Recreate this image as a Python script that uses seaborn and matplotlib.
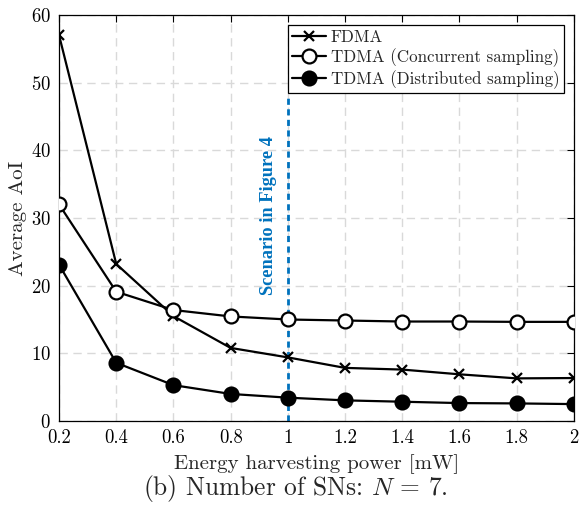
import matplotlib
matplotlib.use("Agg")
import matplotlib.pyplot as plt
import seaborn as sns
import pandas as pd

# Energy harvesting power [mW]
power = [0.2, 0.4, 0.6, 0.8, 1.0, 1.2, 1.4, 1.6, 1.8, 2.0]

# Average AoI for each access scheme
aoi_fdma = [57.0, 23.2, 15.5, 10.8, 9.4, 7.85, 7.6, 6.9, 6.3, 6.35]
aoi_tdma_concurrent = [32.0, 19.1, 16.4, 15.45, 15.0, 14.85, 14.7, 14.7, 14.65, 14.65]
aoi_tdma_distributed = [23.1, 8.6, 5.3, 4.0, 3.45, 3.05, 2.85, 2.65, 2.6, 2.5]

labels = ["FDMA", "TDMA (Concurrent sampling)", "TDMA (Distributed sampling)"]
x_ticks = [0.2, 0.4, 0.6, 0.8, 1.0, 1.2, 1.4, 1.6, 1.8, 2.0]
x_tick_labels = ["0.2", "0.4", "0.6", "0.8", "1", "1.2", "1.4", "1.6", "1.8", "2"]
y_ticks = [0, 10, 20, 30, 40, 50, 60]
scenario_power = 1.0
scenario_text = "Scenario in Figure 4"

sns.set_theme(style="white")
plt.rcParams["font.family"] = ["cmr10"]
plt.rcParams["mathtext.fontset"] = "cm"
plt.rcParams["axes.formatter.use_mathtext"] = True

df = pd.DataFrame({
    "power": power * 3,
    "aoi": aoi_fdma + aoi_tdma_concurrent + aoi_tdma_distributed,
    "scheme": [labels[0]] * len(power) + [labels[1]] * len(power) + [labels[2]] * len(power),
})

fig = plt.figure(figsize=(5.79, 5.15), dpi=100)
ax = fig.add_axes([0.102, 0.1825, 0.889, 0.7885])

styles = {
    labels[0]: dict(marker="x", markersize=7, markeredgewidth=1.6, markerfacecolor="black"),
    labels[1]: dict(marker="o", markersize=10, markeredgewidth=1.6, markerfacecolor="white"),
    labels[2]: dict(marker="o", markersize=10, markeredgewidth=1.6, markerfacecolor="black"),
}
for name in labels:
    sub = df[df["scheme"] == name]
    sns.lineplot(data=sub, x="power", y="aoi", ax=ax, color="black", linewidth=1.6,
                 markeredgecolor="black", label=name, zorder=3, **styles[name])

ax.set_xlim(0.2, 2.0)
ax.set_ylim(0, 60)
ax.set_xticks(x_ticks)
ax.set_xticklabels(x_tick_labels)
ax.set_yticks(y_ticks)
ax.tick_params(direction="in", length=5, width=0.8, top=True, right=True,
               labelsize=13.5, colors="black", pad=6)
ax.grid(True, linestyle=(0, (6, 4)), color="#d9d9d9", linewidth=1.0)
for sp in ax.spines.values():
    sp.set_color("black")
    sp.set_linewidth(0.9)

# Scenario marker
ax.vlines(scenario_power, 0, 48, colors="#0072BD", linestyles=(0, (2.2, 1.6)),
          linewidth=2.0, zorder=2)
ax.text(0.934, 30.4, scenario_text, rotation=90, ha="center", va="center",
        color="#0072BD", fontsize=13.2, fontweight="bold", family="Liberation Serif")

ax.set_xlabel("Energy harvesting power [mW]", fontsize=15, labelpad=5)
ax.set_ylabel("Average AoI", fontsize=15, labelpad=3)

leg = ax.legend(loc="upper right", fontsize=12.2, frameon=True, fancybox=False,
                edgecolor="black", framealpha=1, borderaxespad=0.6,
                handlelength=2.0, handletextpad=0.3, borderpad=0.25, labelspacing=0.2)
leg.get_frame().set_linewidth(0.9)

fig.text(0.51, 0.052, "(b) Number of SNs: $N$ = 7.", ha="center", va="center", fontsize=18.3)

fig.savefig("out.png", dpi=100)
